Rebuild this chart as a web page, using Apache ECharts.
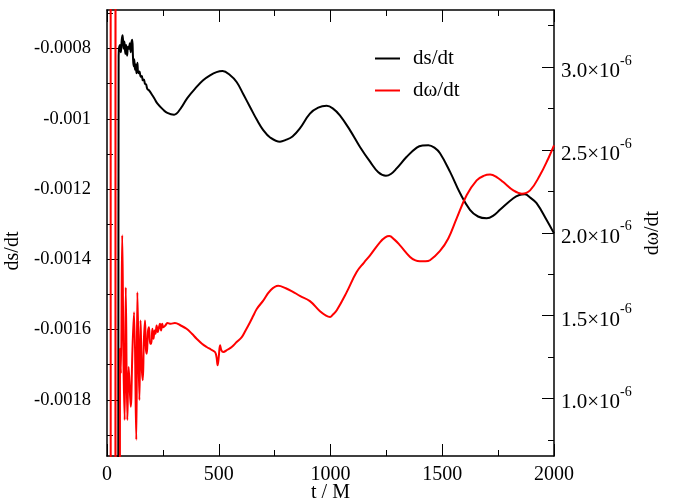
<!DOCTYPE html>
<html>
<head>
<meta charset="utf-8">
<script src="https://cdn.jsdelivr.net/npm/echarts@6/dist/echarts.min.js"></script>
<style>html,body{margin:0;padding:0;background:#fff}#c{width:673px;height:502px}</style>
</head>
<body>
<div id="c"></div>
<script>
// ---- data ----
const xTicks = [0, 500, 1000, 1500, 2000];
const leftTicks = [-0.0018, -0.0016, -0.0014, -0.0012, -0.001, -0.0008];
const leftMinor = [-0.0019, -0.0017, -0.0015, -0.0013, -0.0011, -0.0009, -0.0007];
const rightTicks = [1.0e-6, 1.5e-6, 2.0e-6, 2.5e-6, 3.0e-6];
const rightMinor = [0.75e-6, 1.25e-6, 1.75e-6, 2.25e-6, 2.75e-6, 3.25e-6];

const dsT = [0, 50, 52, 58, 62, 66, 70, 74, 78, 82, 86, 90, 94, 98, 102, 106, 110, 113, 116, 119, 122, 125, 128, 132, 136, 140, 145, 151, 156, 160, 165, 170, 175, 180, 190, 200, 212, 225, 250, 270, 300, 330, 360, 401, 430, 461, 490, 517, 550, 580, 610, 640, 670, 699, 730, 774, 800, 830, 863, 908, 945, 983, 1010, 1042, 1087, 1132, 1177, 1214, 1248, 1270, 1296, 1341, 1386, 1412, 1438, 1465, 1490, 1535, 1580, 1624, 1660, 1699, 1730, 1758, 1818, 1845, 1870, 1895, 1922, 1967, 2000];
const dsV = [-0.0025, -0.0025, -0.00082, -0.00079, -0.00081, -0.000775, -0.000762, -0.0008, -0.00078, -0.000815, -0.00079, -0.00082, -0.000795, -0.0008, -0.000785, -0.00081, -0.00078, -0.000775, -0.00082, -0.00085, -0.00083, -0.00086, -0.000845, -0.00087, -0.00084, -0.00087, -0.000865, -0.00088, -0.000878, -0.00089, -0.000888, -0.0009, -0.000902, -0.000914, -0.00092, -0.00093, -0.000942, -0.000956, -0.000973, -0.000983, -0.000988, -0.00097, -0.00094, -0.000909, -0.00089, -0.000876, -0.000867, -0.000864, -0.000875, -0.000895, -0.00093, -0.000966, -0.001002, -0.001032, -0.001053, -0.001065, -0.00106, -0.00105, -0.001027, -0.000985, -0.000968, -0.000963, -0.00097, -0.00099, -0.001032, -0.00108, -0.001122, -0.001152, -0.001162, -0.001157, -0.001141, -0.001108, -0.001082, -0.001076, -0.001075, -0.001082, -0.001098, -0.001151, -0.001212, -0.001259, -0.001278, -0.001283, -0.001275, -0.001259, -0.001226, -0.001217, -0.001215, -0.001225, -0.00124, -0.001288, -0.001326];

const dwT = [0, 16, 17, 37, 38, 39, 56, 58, 62, 68, 74, 79, 84, 91, 97, 106, 114, 121, 131, 136, 145, 150, 155, 160, 165, 170, 174, 178, 183, 188, 193, 198, 203, 208, 213, 217, 222, 227, 231, 237, 242, 247, 252, 261, 270, 285, 304, 330, 356, 380, 401, 425, 446, 465, 483, 490, 495, 500, 506, 512, 520, 540, 558, 580, 603, 620, 640, 655, 670, 699, 730, 766, 800, 830, 863, 908, 953, 980, 998, 1010, 1028, 1073, 1117, 1150, 1177, 1222, 1245, 1263, 1285, 1311, 1356, 1380, 1400, 1425, 1445, 1490, 1527, 1564, 1609, 1654, 1685, 1714, 1745, 1773, 1818, 1856, 1893, 1937, 1974, 2000];
const dwV = [8e-6, 8e-6, -5e-6, -5e-6, 8e-6, -5e-6, -5e-6, 1.30e-6, 1.15e-6, 1.985e-6, 1.2e-6, 0.87e-6, 1.67e-6, 0.87e-6, 1.19e-6, 0.95e-6, 1.3e-6, 1.52e-6, 0.75e-6, 1.64e-6, 0.99e-6, 1.47e-6, 1.2e-6, 1.11e-6, 1.35e-6, 1.47e-6, 1.30e-6, 1.27e-6, 1.40e-6, 1.43e-6, 1.33e-6, 1.33e-6, 1.42e-6, 1.36e-6, 1.41e-6, 1.39e-6, 1.44e-6, 1.40e-6, 1.42e-6, 1.45e-6, 1.41e-6, 1.45e-6, 1.43e-6, 1.44e-6, 1.455e-6, 1.45e-6, 1.455e-6, 1.44e-6, 1.42e-6, 1.39e-6, 1.36e-6, 1.33e-6, 1.31e-6, 1.295e-6, 1.28e-6, 1.25e-6, 1.20e-6, 1.25e-6, 1.32e-6, 1.29e-6, 1.28e-6, 1.295e-6, 1.31e-6, 1.34e-6, 1.37e-6, 1.41e-6, 1.46e-6, 1.50e-6, 1.54e-6, 1.59e-6, 1.65e-6, 1.68e-6, 1.665e-6, 1.645e-6, 1.619e-6, 1.587e-6, 1.526e-6, 1.50e-6, 1.492e-6, 1.505e-6, 1.532e-6, 1.643e-6, 1.763e-6, 1.82e-6, 1.864e-6, 1.944e-6, 1.972e-6, 1.98e-6, 1.96e-6, 1.924e-6, 1.854e-6, 1.833e-6, 1.828e-6, 1.828e-6, 1.834e-6, 1.89e-6, 1.965e-6, 2.085e-6, 2.226e-6, 2.316e-6, 2.343e-6, 2.351e-6, 2.335e-6, 2.306e-6, 2.256e-6, 2.236e-6, 2.256e-6, 2.347e-6, 2.447e-6, 2.527e-6];

// ---- chart ----
const FONT = "'Liberation Serif', 'Times New Roman', serif";
const chart = echarts.init(document.getElementById('c'), null, {renderer: 'canvas'});
const zip = (a, b) => a.map((t, i) => [t, b[i]]);
const lineAx = {show: true, onZero: false, lineStyle: {color: '#000', width: 1.5}};
const tickIn = (len) => ({show: true, inside: true, length: len, lineStyle: {color: '#000', width: 1}});
const minorX = {show: true, splitNumber: 2, length: 6, lineStyle: {color: '#000', width: 1}};

const option = {
  animation: false,
  backgroundColor: '#fff',
  textStyle: {fontFamily: FONT},
  grid: {left: 107, right: 119, top: 10, bottom: 46, containLabel: false, outerBoundsMode: 'none'},
  legend: {
    orient: 'vertical', left: 370, top: 43, itemGap: 11,
    icon: 'rect', itemWidth: 25, itemHeight: 2,
    textStyle: {fontFamily: FONT, fontSize: 21, color: '#000', padding: [0, 0, 0, 8]},
    data: ['ds/dt', 'dω/dt']
  },
  xAxis: [
    {type: 'value', position: 'bottom', min: 0, max: 2000, interval: 500,
     axisLine: lineAx, axisTick: tickIn(12), minorTick: minorX,
     splitLine: {show: false},
     axisLabel: {fontFamily: FONT, fontSize: 20, color: '#000', margin: 9,
       formatter: v => String(v)},
     name: 't / M', nameLocation: 'middle', nameGap: 27, nameMoveOverlap: false,
     nameTextStyle: {fontFamily: FONT, fontSize: 20, color: '#000'}},
    {type: 'value', position: 'top', min: 0, max: 2000, interval: 500,
     axisLine: lineAx, axisTick: tickIn(12), minorTick: minorX,
     splitLine: {show: false}, axisLabel: {show: false}}
  ],
  yAxis: [
    {type: 'value', position: 'left', min: -0.00196, max: -0.00069,
     axisLine: lineAx,
     axisTick: Object.assign(tickIn(12), {customValues: leftTicks}),
     splitLine: {show: false},
     axisLabel: {fontFamily: FONT, fontSize: 18.5, color: '#000', margin: 16,
       customValues: leftTicks,
       formatter: v => String(Number(v.toPrecision(6)))},
     name: 'ds/dt', nameLocation: 'middle', nameGap: 80, nameRotate: 90,
     nameTextStyle: {fontFamily: FONT, fontSize: 20, color: '#000', padding: [0, 0, 0, -36]}},
    {type: 'value', position: 'right', min: 0.652e-6, max: 3.345e-6,
     axisLine: lineAx,
     axisTick: Object.assign(tickIn(12), {customValues: rightTicks}),
     splitLine: {show: false},
     axisLabel: {color: '#000', margin: 7, customValues: rightTicks,
       formatter: v => '{a|' + (v / 1e-6).toFixed(1) + '×10}{b|-6}',
       rich: {
         a: {fontFamily: FONT, fontSize: 21, color: '#000', lineHeight: 30, verticalAlign: 'bottom', padding: [6, 0, 0, 0]},
         b: {fontFamily: FONT, fontSize: 14, color: '#000', lineHeight: 30, verticalAlign: 'top', padding: [2, 0, 0, 0]}
       }},
     name: 'dω/dt', nameLocation: 'middle', nameGap: 86, nameRotate: 90,
     nameTextStyle: {fontFamily: FONT, fontSize: 20, color: '#000'}},
    {type: 'value', position: 'left', min: -0.00196, max: -0.00069,
     axisLine: {show: false, onZero: false},
     axisTick: Object.assign(tickIn(6), {customValues: leftMinor}),
     splitLine: {show: false}, axisLabel: {show: false}},
    {type: 'value', position: 'right', min: 0.652e-6, max: 3.345e-6,
     axisLine: {show: false, onZero: false},
     axisTick: Object.assign(tickIn(6), {customValues: rightMinor}),
     splitLine: {show: false}, axisLabel: {show: false}}
  ],
  series: [
    {name: 'ds/dt', type: 'line', xAxisIndex: 0, yAxisIndex: 0, showSymbol: false, symbol: 'none',
     data: zip(dsT, dsV), smooth: 0.4, clip: true,
     lineStyle: {color: '#000', width: 2}, itemStyle: {color: '#000'}},
    {name: 'dω/dt', type: 'line', xAxisIndex: 0, yAxisIndex: 1, showSymbol: false, symbol: 'none',
     data: zip(dwT, dwV), smooth: 0.4, clip: true,
     lineStyle: {color: '#ff0000', width: 2}, itemStyle: {color: '#ff0000'}}
  ]
};
chart.setOption(option);
</script>
</body>
</html>
